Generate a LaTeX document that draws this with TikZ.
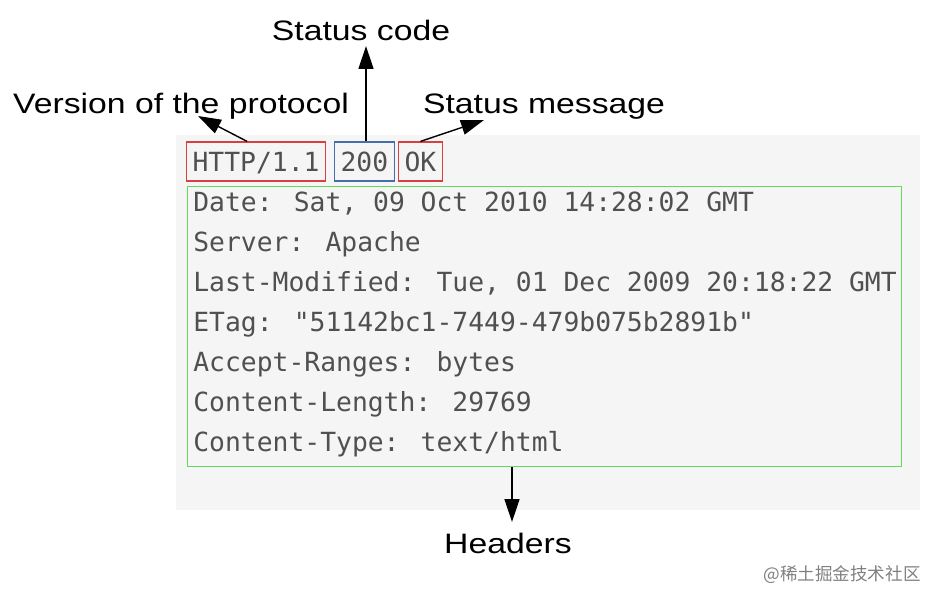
\documentclass[tikz,border=0pt]{standalone}
\usepackage{fontspec}
\setmainfont{Liberation Sans}
\newfontfamily\monofont{DejaVu Sans Mono}
\newfontfamily\cjk{Noto Sans CJK SC}
\usetikzlibrary{arrows.meta}

\definecolor{boxred}{RGB}{214,64,64}
\definecolor{boxblue}{RGB}{70,110,170}
\definecolor{boxgreen}{RGB}{100,220,90}
\definecolor{panelgray}{RGB}{245,245,246}
\definecolor{codegray}{RGB}{80,80,80}

\newcommand{\widelbl}[1]{\scalebox{1.2}[1]{#1}}

\tikzset{
  mono/.style={font=\monofont\fontsize{15}{18}\selectfont, text=codegray, inner sep=0pt},
  linebox/.style={mono, anchor=west, line width=0.7pt, inner xsep=0.12cm, inner ysep=0.12cm,
    text height=0.46cm, text depth=0.08cm},
  lbl/.style={font=\fontsize{16}{19}\selectfont, anchor=base, inner sep=0pt},
  arr/.style={-{Triangle[length=0.46cm,width=0.3cm]}, line width=0.8pt}
}

\begin{document}
\begin{tikzpicture}[x=0.02cm, y=-0.02cm]
\useasboundingbox (0,0) rectangle (941,602);

% fond
\fill[panelgray] (176,135) rectangle (920,510);

% ligne de statut
\node[linebox, draw=boxred] (ver) at (186,161.5) {HTTP/1.1};
\node[linebox, draw=boxblue] (code) at (334,161.5) {200};
\node[linebox, draw=boxred] (msg) at (398,161.5) {OK};

% en-tetes
\node[draw=boxgreen, line width=0.7pt, anchor=north west, inner sep=0pt,
  minimum width=14.28cm, minimum height=5.6cm] (hdrs) at (187,186) {};
\foreach \txt [count=\i] in {{Date: Sat, 09 Oct 2010 14:28:02 GMT},
  {Server: Apache}, {Last-Modified: Tue, 01 Dec 2009 20:18:22 GMT},
  {ETag: "51142bc1-7449-479b075b2891b"}, {Accept-Ranges: bytes},
  {Content-Length: 29769}, {Content-Type: text/html}}
  \node[mono, anchor=base west] (h\i) at (193,171+40*\i) {\txt};

% etiquettes
\node[lbl] (verlbl) at (181,113) {\widelbl{Version of the protocol}};
\node[lbl] (codelbl) at (361,40) {\widelbl{Status code}};
\node[lbl] (msglbl) at (544,113) {\widelbl{Status message}};
\node[lbl] (hdrlbl) at (508,553) {\widelbl{Headers}};

\coordinate (vtip) at (198,116);
\coordinate (ctip) at (366,46);
\coordinate (mtip) at (484,120);
\coordinate (htip) at (512,522);

\draw[arr] ([xshift=-0.18cm]ver.north) -- (vtip);
\draw[arr] (code.north -| ctip) -- (ctip);
\draw[arr] (msg.north) -- (mtip);
\draw[arr] (hdrs.south -| htip) -- (htip);

\node[font=\cjk\fontsize{10}{12}\selectfont, text=gray] (mark) at (842,575) {@稀土掘金技术社区};
\end{tikzpicture}
\end{document}
